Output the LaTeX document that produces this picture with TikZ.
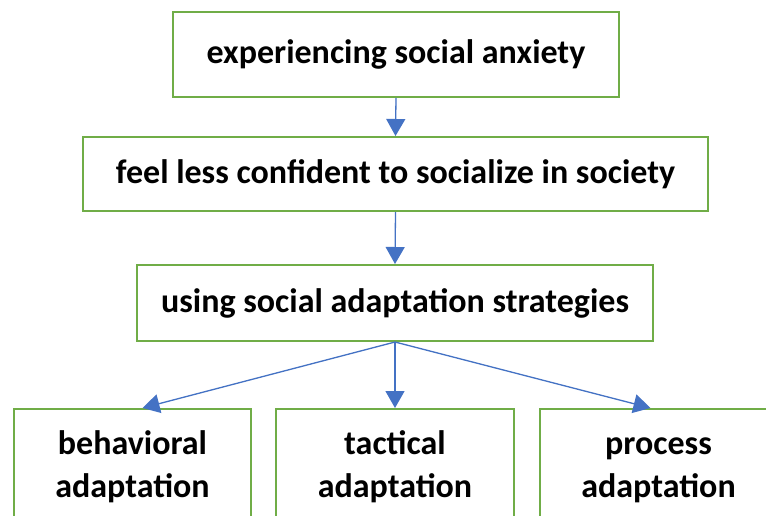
\documentclass[tikz,border=0pt]{standalone}
\usepackage{fontspec}
\setmainfont{Carlito}
\usetikzlibrary{arrows.meta}
\definecolor{boxgreen}{HTML}{70AD47}
\definecolor{linkblue}{HTML}{4472C4}
\begin{document}
\begin{tikzpicture}[x=1pt,y=-1pt,
  stagebox/.style={draw=boxgreen,line width=2pt,fill=white,rectangle,
    inner sep=0pt,align=center,font=\fontsize{34}{43}\selectfont\bfseries},
  link/.style={draw=linkblue,line width=1.3pt,
    -{Triangle[width=19pt,length=17pt]},fill=linkblue}]
  \useasboundingbox (0,0) rectangle (766,515);
  \clip (0,0) rectangle (766,515);
  \fill[white] (0,0) rectangle (766,515);

  \node[stagebox,minimum width=446pt,minimum height=85pt] (anx) at (396,54.5)
    {experiencing social anxiety};
  \node[stagebox,minimum width=625pt,minimum height=74pt] (conf) at (395.5,174)
    {feel less confident to socialize in society};
  \node[stagebox,minimum width=516pt,minimum height=76pt] (strat) at (395,303)
    {using social adaptation strategies};

  \node[stagebox,minimum width=237pt,minimum height=116pt] (beh) at (132.5,467)
    {\strut behavioral\\\strut adaptation};
  \node[stagebox,minimum width=238pt,minimum height=116pt] (tac) at (395,467)
    {\strut tactical\\\strut adaptation};
  \node[stagebox,minimum width=237pt,minimum height=116pt] (proc) at (658.5,467)
    {\strut process\\\strut adaptation};

  \draw[link] (anx.south) -- (conf.north);
  \draw[link] (conf.south) -- (strat.north);
  \draw[link] (strat.south) -- ([xshift=10pt]beh.north);
  \draw[link] (strat.south) -- (tac.north);
  \draw[link] (strat.south) -- ([xshift=-8pt]proc.north);
\end{tikzpicture}
\end{document}
